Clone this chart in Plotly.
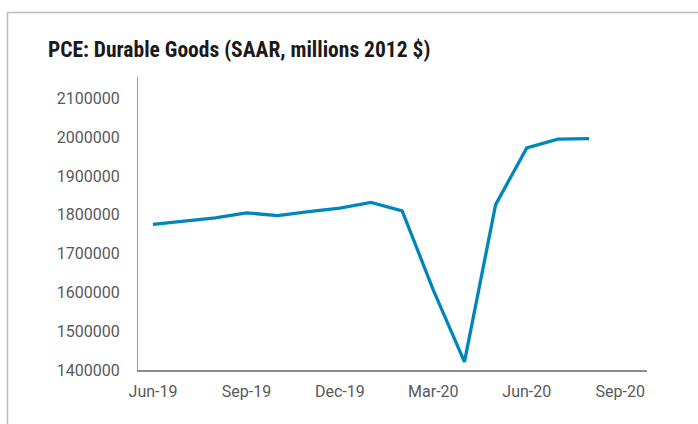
import plotly.graph_objects as go

months = ["Jun-19", "Jul-19", "Aug-19", "Sep-19", "Oct-19", "Nov-19", "Dec-19",
          "Jan-20", "Feb-20", "Mar-20", "Apr-20", "May-20", "Jun-20", "Jul-20", "Aug-20"]
values = [1775000, 1783000, 1792000, 1805000, 1798000, 1808000, 1817000,
          1832000, 1810000, 1606000, 1421000, 1826000, 1972000, 1995000, 1996000]
tick_labels = ["Jun-19", "Sep-19", "Dec-19", "Mar-20", "Jun-20", "Sep-20"]
y_ticks = [1400000, 1500000, 1600000, 1700000, 1800000, 1900000, 2000000, 2100000]

idx = list(range(len(months)))
tick_idx = [0, 3, 6, 9, 12, 15]

fig = go.Figure()
fig.add_trace(go.Scatter(
    x=idx, y=values, mode="lines",
    line=dict(color="#0086b8", width=3.3),
    text=months, hovertemplate="%{text}: %{y}<extra></extra>",
))

W, H = 698, 424
ml, mr, mt, mb = 138, 51, 77, 54
pw, ph = W - ml - mr, H - mt - mb

fig.update_layout(
    width=W, height=H,
    margin=dict(l=ml, r=mr, t=mt, b=mb),
    paper_bgcolor="white", plot_bgcolor="white",
    showlegend=False,
    font=dict(family="Roboto", size=16, color="#595959"),
    xaxis=dict(
        range=[-0.4815, 15.86], tickmode="array", tickvals=tick_idx, ticktext=tick_labels,
        showgrid=False, zeroline=False, showline=True, linecolor="#8c8c8c", linewidth=1.5,
        ticks="", ticklabelstandoff=6,
    ),
    yaxis=dict(
        range=[1400000, 2155000], tickmode="array", tickvals=y_ticks,
        tickformat="d", showgrid=False, zeroline=False, showline=True,
        linecolor="#a0a0a0", linewidth=1, ticks="", ticklabelstandoff=14,
    ),
    shapes=[dict(
        type="rect", xref="paper", yref="paper",
        x0=(7.5 - ml) / pw, x1=1.3, y0=-0.4, y1=1 + (mt - 12.5) / ph,
        line=dict(color="#bdbdbd", width=1.5), layer="below",
    )],
    annotations=[dict(
        text="<b>PCE: Durable Goods (SAAR, millions 2012 $)</b>",
        xref="paper", yref="paper", x=(46 - ml) / pw, y=1 + (mt - 50) / ph,
        xanchor="left", yanchor="middle", showarrow=False,
        font=dict(family="Roboto Condensed, Liberation Sans Narrow, DejaVu Sans Condensed, Roboto",
                  size=21.5, color="#1a1a1a"),
    )],
)

fig.write_html("out.html")
